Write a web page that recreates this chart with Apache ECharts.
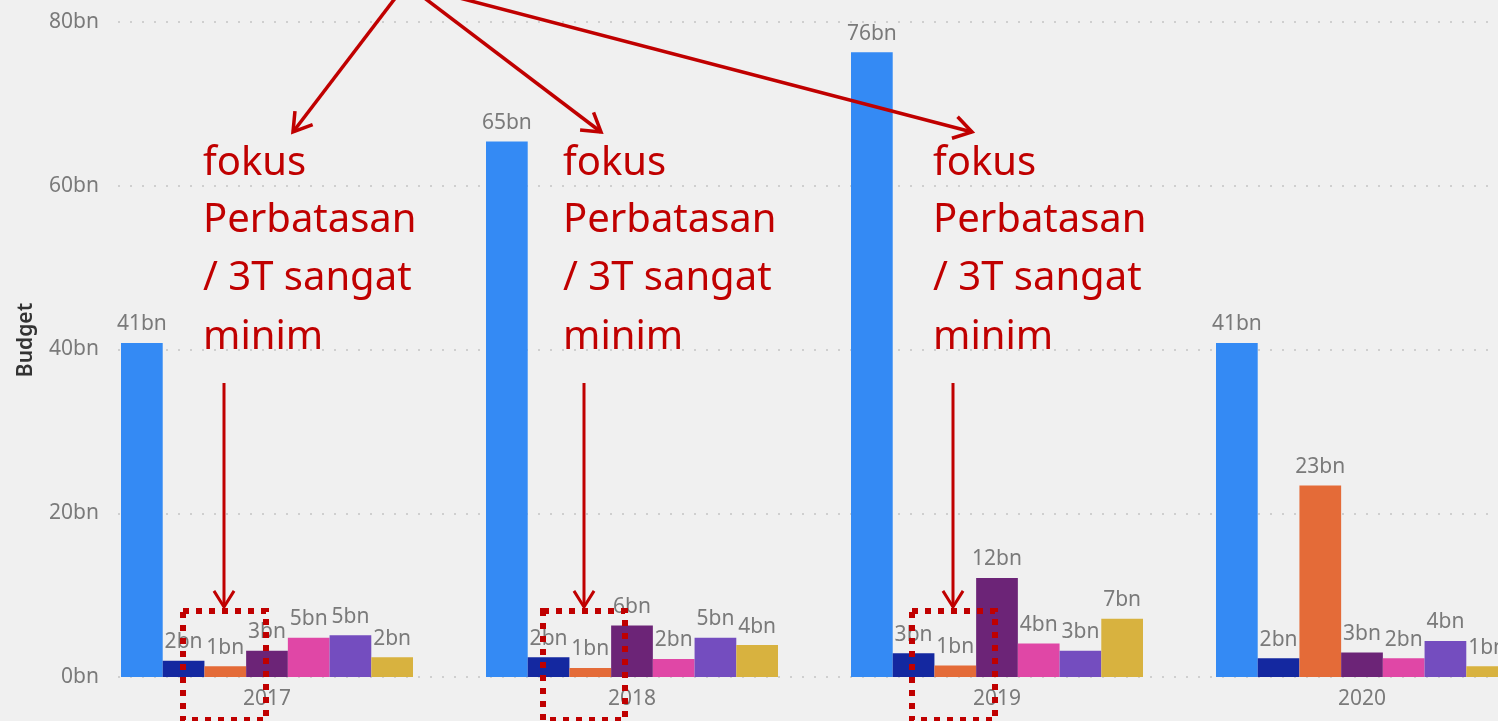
<!DOCTYPE html>
<html>
<head>
<meta charset="utf-8">
<script src="https://cdn.jsdelivr.net/npm/echarts@6/dist/echarts.min.js"></script>
<style>
html,body{margin:0;padding:0;background:#f0f0f0;}
#c{width:1498px;height:721px;}
</style>
</head>
<body>
<div id="c"></div>
<script>
// ---- data ----
const categories = ['2017', '2018', '2019', '2020'];
const yTickLabels = ['0bn', '20bn', '40bn', '60bn', '80bn'];
const seriesNames = ['Kategori 1', 'Kategori 2', 'Kategori 3', 'Kategori 4', 'Kategori 5', 'Kategori 6', 'Kategori 7'];
const s1 = [40.8, 65.4, 76.3, 40.8];
const s2 = [2.0, 2.4, 2.9, 2.3];
const s3 = [1.3, 1.1, 1.4, 23.4];
const s4 = [3.2, 6.3, 12.1, 3.0];
const s5 = [4.8, 2.2, 4.1, 2.3];
const s6 = [5.1, 4.8, 3.2, 4.4];
const s7 = [2.4, 3.9, 7.1, 1.3];
const annotationLines = ['fokus', 'Perbatasan', '/ 3T sangat', 'minim'];

// ---- style ----
const colors = ['#348AF4', '#1428A0', '#E46B38', '#6C2477', '#E047A6', '#744DBF', '#D8B23F'];
const RED = '#C00000';
const FONT = 'Noto Sans';

const chart = echarts.init(document.getElementById('c'));
const allSeries = [s1, s2, s3, s4, s5, s6, s7];

const series = allSeries.map((d, i) => ({
  name: seriesNames[i],
  type: 'bar',
  xAxisIndex: 0,
  yAxisIndex: 0,
  data: d,
  barGap: '0%',
  barCategoryGap: '20%',
  itemStyle: { color: colors[i] },
  label: {
    show: true,
    position: 'top',
    distance: 8,
    color: '#7a7a7a',
    fontFamily: FONT,
    fontSize: 21,
    formatter: p => Math.round(p.value) + 'bn'
  }
}));

// annotations (graphic)
const graphic = [];
graphic.push({
  type: 'text', x: 26, y: 340, rotation: Math.PI / 2, z: 10,
  style: { text: 'Budget', fill: '#333', font: '600 21px "' + FONT + '"', align: 'center', verticalAlign: 'middle' }
});
const textX = [203, 563, 933];
const lineY = [164, 221, 279, 338];
textX.forEach(x => {
  annotationLines.forEach((t, k) => {
    graphic.push({
      type: 'text', x: x, y: lineY[k], z: 20,
      style: { text: t, fill: RED, font: '40px "' + FONT + '"', align: 'left', verticalAlign: 'middle' }
    });
  });
});
function arrow(from, tip, w, L) {
  const dx = tip[0] - from[0], dy = tip[1] - from[1];
  const len = Math.hypot(dx, dy);
  const ux = dx / len, uy = dy / len;
  const th = 32 * Math.PI / 180;
  const rot = a => [ux * Math.cos(a) - uy * Math.sin(a), ux * Math.sin(a) + uy * Math.cos(a)];
  const r1 = rot(th), r2 = rot(-th);
  graphic.push({ type: 'polyline', z: 20, shape: { points: [from, tip] }, style: { stroke: RED, lineWidth: w, fill: null } });
  graphic.push({ type: 'polyline', z: 20, shape: { points: [[tip[0] - L * r1[0], tip[1] - L * r1[1]], tip, [tip[0] - L * r2[0], tip[1] - L * r2[1]]] }, style: { stroke: RED, lineWidth: w, fill: null, lineJoin: 'miter' } });
}
const origin = [406, -16];
arrow(origin, [293, 132], 3.5, 21);
arrow(origin, [601, 132], 3.5, 21);
arrow(origin, [972, 132], 3.5, 21);
[224, 584, 953].forEach(x => arrow([x, 383], [x, 607], 3, 19));
[[183, 266], [543, 625], [912, 995]].forEach(r => {
  graphic.push({
    type: 'rect', z: 25,
    shape: { x: r[0], y: 611, width: r[1] - r[0], height: 109 },
    style: { stroke: RED, lineWidth: 6, lineDash: [6, 7], fill: null }
  });
});

chart.setOption({
  backgroundColor: '#f0f0f0',
  animation: false,
  grid: [
    { left: 84.5, right: -46.5, top: 22, bottom: 44, outerBoundsMode: 'none' },
    { left: 118, right: -46.5, top: 22, bottom: 44, outerBoundsMode: 'none' }
  ],
  xAxis: [
    {
      type: 'category', gridIndex: 0, data: categories,
      axisLine: { show: false }, axisTick: { show: false },
      axisLabel: { color: '#7a7a7a', fontFamily: FONT, fontSize: 21, margin: 12 }
    },
    { type: 'category', gridIndex: 1, data: categories, show: false }
  ],
  yAxis: [
    { type: 'value', gridIndex: 0, min: 0, max: 80, interval: 20, show: false, splitLine: { show: false } },
    {
      type: 'value', gridIndex: 1, min: 0, max: 80, interval: 20,
      axisLine: { show: false }, axisTick: { show: false },
      axisLabel: {
        color: '#7a7a7a', fontFamily: FONT, fontSize: 21, margin: 19,
        formatter: (v) => yTickLabels[Math.round(v / 20)]
      },
      splitLine: { show: true, lineStyle: { color: '#c4c4c4', width: 1.5, type: [2, 10] } }
    }
  ],
  series: series,
  graphic: graphic
});
</script>
</body>
</html>
